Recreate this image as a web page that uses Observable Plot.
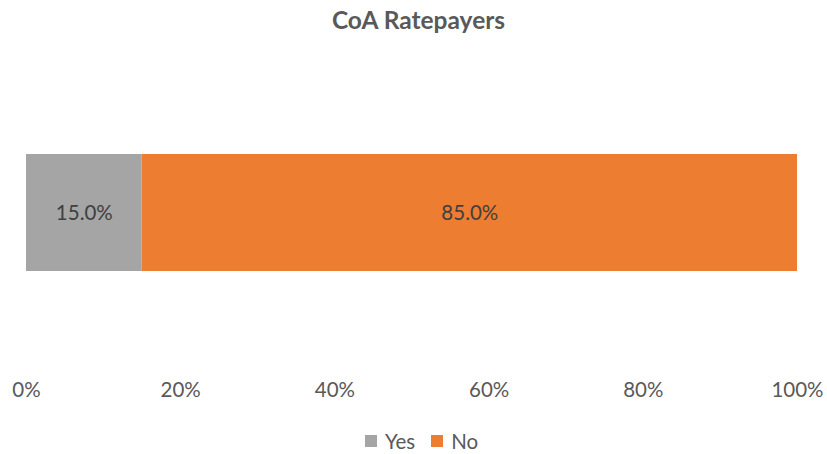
<!DOCTYPE html>
<html>
<head>
<meta charset="utf-8">
<script src="https://cdn.jsdelivr.net/npm/d3@7"></script>
<script src="https://cdn.jsdelivr.net/npm/@observablehq/plot@0.6"></script>
<style>
  html, body { margin: 0; padding: 0; background: #fff; }
  body { width: 827px; height: 454px; overflow: hidden; font-family: Lato, "Open Sans", sans-serif; }
  #title { height: 42px; line-height: 40px; text-align: center; padding-left: 10px; box-sizing: border-box;
           font-weight: bold; font-size: 24.5px; color: #595959; }
  #legend { display: flex; justify-content: center; align-items: center; padding-left: 16px;
            margin-top: 8px; height: 42px; font-size: 20.5px; color: #595959; }
  #legend .item { display: flex; align-items: center; margin: 0 8px; }
  #legend .sw { width: 12px; height: 12px; margin-right: 8px; }
</style>
</head>
<body>
<div id="title">CoA Ratepayers</div>
<div id="chart"></div>
<div id="legend"></div>
<script>
const chartTitle = "CoA Ratepayers";
const categories = ["Yes", "No"];
const values = [15.0, 85.0];
const colors = ["#A5A5A5", "#ED7D31"];
const xTicks = [0, 20, 40, 60, 80, 100];

const data = categories.map((c, i) => ({group: chartTitle, answer: c, value: values[i]}));

const plot = Plot.plot({
  width: 827,
  height: 370,
  marginLeft: 26,
  marginRight: 30,
  marginTop: 112,
  marginBottom: 141,
  style: {fontFamily: "Lato, 'Open Sans', sans-serif", background: "#fff"},
  x: {domain: [0, 100], axis: null},
  y: {domain: [chartTitle], axis: null, padding: 0},
  color: {domain: categories, range: colors},
  marks: [
    Plot.barX(data, Plot.stackX({x: "value", y: "group", fill: "answer"})),
    Plot.text(data, Plot.stackX({x: "value", y: "group", z: "answer",
      text: d => d.value.toFixed(1) + "%", fill: "#404040", fontSize: 20.5})),
    Plot.axisX({ticks: xTicks, tickSize: 0, tickPadding: 111, anchor: "bottom", label: null,
      tickFormat: d => d + "%", fontSize: 20.5, color: "#595959"})
  ]
});
document.getElementById("chart").appendChild(plot);

const legend = document.getElementById("legend");
categories.forEach((c, i) => {
  const item = document.createElement("span");
  item.className = "item";
  const sw = document.createElement("span");
  sw.className = "sw";
  sw.style.background = colors[i];
  const label = document.createElement("span");
  label.textContent = c;
  item.appendChild(sw);
  item.appendChild(label);
  legend.appendChild(item);
});
</script>
</body>
</html>
